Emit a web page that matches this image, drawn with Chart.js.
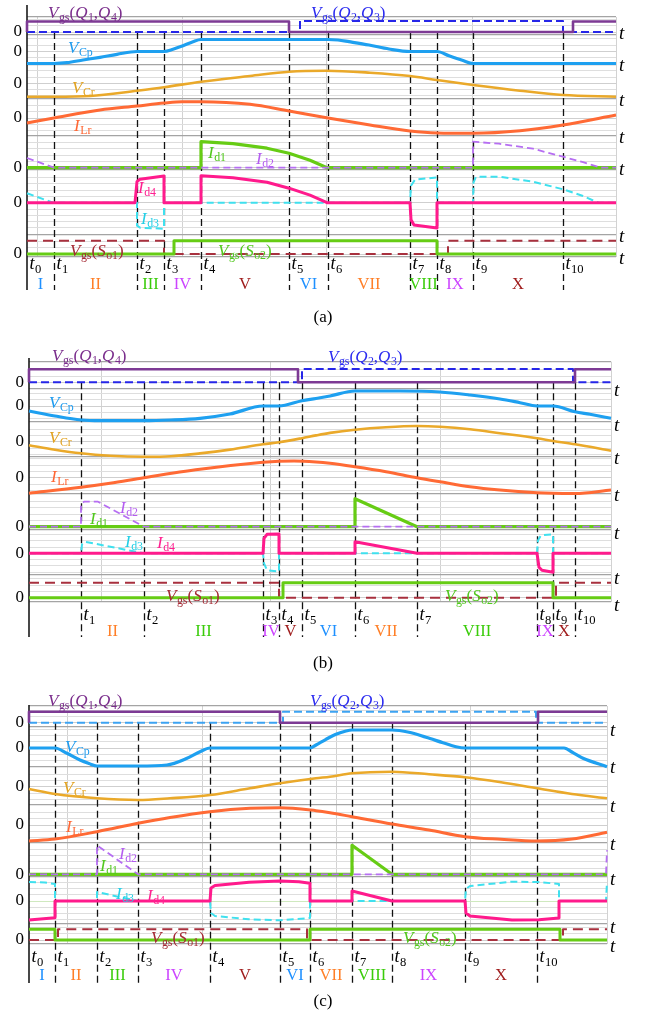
<!DOCTYPE html>
<html>
<head>
<meta charset="utf-8">
<title>Converter switching waveforms</title>
<script src="https://cdn.jsdelivr.net/npm/chart.js@4.4.1/dist/chart.umd.min.js"></script>
<style>
  html, body { margin: 0; padding: 0; background: #fff; }
  #sheet { position: relative; width: 646px; height: 1016px; overflow: hidden; background: #fff; }
  #sheet canvas { position: absolute; left: 0; }
</style>
</head>
<body>
<div id="sheet">
  <canvas id="panelA" width="646" height="332" style="top:0px"></canvas>
  <canvas id="panelB" width="646" height="340" style="top:332px"></canvas>
  <canvas id="panelC" width="646" height="344" style="top:672px"></canvas>
</div>
<script>
// ---------- common labels ----------
const romans = ['I', 'II', 'III', 'IV', 'V', 'VI', 'VII', 'VIII', 'IX', 'X'];

// ---------- panel (a): switching instants and waveforms [time, amplitude] ----------
const aTimes = [0, 27, 110, 137, 174, 262, 301, 383, 410, 446, 536];
const aEnd = 589;
const aVgsQ14 = [[0, 0], [0, 10.5], [262, 10.5], [262, 0], [546, 0], [546, 10.5], [589, 10.5]];
const aVgsQ23 = [[0, 0], [273, 0], [273, 11], [536, 11], [536, 0], [589, 0]];
const aVCp = [[0, -12], [27, -12], [40, -11.2], [56, -8.5], [73, -5.8], [90, -2.8], [110, 0], [137, 0], [146, 2.2], [156, 5.8], [166, 9.8], [174, 12], [301, 12], [311, 11.5], [322, 9.8], [342, 6.5], [362, 2.5], [383, 0], [410, 0], [422, -4.3], [436, -9], [446, -12], [589, -12]];
const aVCr = [[0, -13.4], [27, -13.4], [63, -12.7], [110, -7.4], [137, -4], [174, 1.6], [223, 7.3], [262, 11.6], [299, 12.6], [343, 10.6], [383, 7.3], [410, 3.3], [446, -1.7], [493, -7.4], [536, -11.7], [589, -13.4]];
const aILr = [[0, -5], [27, 0], [73, 8], [110, 12], [137, 15], [155, 16.3], [174, 16.3], [223, 13.7], [262, 7], [301, 0], [343, -7], [383, -13], [410, -15], [446, -15.3], [493, -12.8], [536, -7], [589, 3]];
const aId1 = [[0, 0], [174, 0], [174, 26], [206, 24], [240, 19.5], [262, 14.5], [283, 7.5], [300, 0], [589, 0]];
const aId2 = [[0, 9.7], [27, 0], [446, 0], [446, 26], [472, 24], [506, 19], [536, 11], [556, 5.5], [574, 0], [589, 0]];
const aId4 = [[0, 0], [108, 0], [110, 21], [113, 23.5], [137, 26.7], [137, 0], [174, 0], [174, 27], [206, 25], [240, 20.5], [262, 14.5], [283, 7.5], [300, 0], [383, 0], [384, -17], [387, -22.3], [410, -25.3], [410, 0], [589, 0]];
const aId3 = [[0, 9.5], [26, 0], [110, 0], [110, -23], [113, -25], [137, -26], [137, 0], [383, 0], [384, 17], [388, 23], [410, 25.3], [410, 0], [446, 0], [446.5, 20], [449, 26], [472, 26], [506, 21], [536, 13.4], [556, 6.7], [569, 1], [572, 0], [589, 0]];
const aSo1 = [[0, 13.3], [137, 13.3], [137, 0], [421, 0], [421, 13.3], [589, 13.3]];
const aSo2 = [[0, 0], [147, 0], [147, 13.3], [410, 13.3], [410, 0], [589, 0]];

// ---------- panel (b) ----------
const bTimes = [52, 115, 234, 250, 273, 326, 388, 508, 524, 546];
const bEnd = 582;
const bVgsQ14 = [[0, 0], [0, 13], [269, 13], [269, 0], [546, 0], [546, 13], [582, 13]];
const bVgsQ23 = [[0, 0], [273, 0], [273, 13.3], [544, 13.3], [544, 0], [582, 0]];
const bVCp = [[0, -5], [26, -10], [52, -14], [71, -14.7], [115, -14.7], [142, -14], [171, -12.3], [201, -8], [234, 0], [250, 0], [273, 5.3], [287, 7.5], [301, 10], [326, 15], [371, 15], [411, 14], [441, 11], [471, 7], [491, 3.3], [508, 0], [524, 0], [546, -5.7], [561, -8.3], [582, -12.3]];
const bVCr = [[0, -3.5], [26, -8], [52, -11.6], [81, -14], [115, -15], [142, -14.5], [171, -11.7], [201, -7.9], [234, -2.6], [250, -0.6], [273, 3.5], [287, 6.3], [301, 8.8], [326, 12], [357, 14.5], [388, 15.7], [411, 15], [441, 12.5], [471, 8.5], [508, 3.4], [524, 0.7], [546, -2.6], [582, -9]];
const bILr = [[0, -15.6], [52, -9.6], [81, -5.6], [115, 0], [171, 8.4], [234, 15.4], [250, 16.5], [265, 16.8], [287, 15.8], [301, 14.5], [326, 11], [357, 6], [388, 0], [411, -4], [441, -9], [471, -12.3], [508, -15], [524, -15.6], [546, -15.8], [582, -12.3]];
const bId1 = [[0, 0], [326, 0], [326, 28], [388, 0], [582, 0]];
const bId2 = [[0, 0], [52, 0], [52, 22], [55, 25], [69, 25], [115, 0], [582, 0]];
const bId4 = [[0, 0], [234, 0], [235, 15], [238, 19], [250, 19.3], [250, 0], [326, 0], [326, 11.6], [388, 0], [508, 0], [510, -14], [513, -17], [524, -19], [524, 0], [582, 0]];
const bId3 = [[0, 0], [52, 0], [53, 9], [56, 11.5], [115, 0], [234, 0], [235, -10], [238, -17], [250, -18.3], [250, 0], [508, 0], [509, 13], [512, 18], [524, 19], [524, 0], [582, 0]];
const bSo1 = [[0, 15], [250, 15], [250, 0], [527, 0], [527, 15], [582, 15]];
const bSo2 = [[0, 0], [254, 0], [254, 15], [524, 15], [524, 0], [582, 0]];

// ---------- panel (c) ----------
const cTimes = [0, 26, 68, 109, 181, 251, 281, 323, 363, 436, 508];
const cEnd = 578;
const cVgsQ14 = [[0, 0], [0, 11], [251, 11], [251, 0], [509, 0], [509, 11], [578, 11]];
const cVgsQ23 = [[0, 0], [254, 0], [254, 11], [507, 11], [507, 0], [578, 0]];
const cVCp = [[0, 0], [26, 0], [38, -5.3], [51, -12], [60, -15.5], [68, -18], [109, -18], [138, -17], [158, -10.3], [171, -3.7], [181, 0], [281, 0], [287, 3], [297, 8.7], [307, 13.7], [317, 17], [323, 18], [363, 18], [380, 15.7], [397, 10.7], [414, 5.3], [427, 1.3], [436, 0], [535, 0], [544, -4.7], [554, -10.3], [578, -18.7]];
const cVCr = [[0, -2.3], [26, -7.3], [68, -11.6], [109, -13.3], [141, -11.6], [181, -8.3], [221, -1.6], [251, 3.4], [287, 8.4], [301, 10], [323, 13.4], [363, 15], [400, 12.4], [436, 9.4], [472, 4.4], [508, -1.6], [543, -7.3], [578, -11.6]];
const cILr = [[0, -16], [26, -14], [68, -6.7], [109, 1.7], [141, 7.5], [181, 13.3], [221, 16.7], [251, 17.3], [287, 14.3], [301, 12.3], [323, 8.3], [363, 1], [400, -5], [436, -11.7], [472, -14.3], [508, -16], [543, -14], [578, -7.3]];
const cId1 = [[0, 0], [323, 0], [323, 29], [363, 0], [578, 0]];
const cId2 = [[0, 0], [68, 0], [68, 29], [109, 0], [577, 0], [578, 24]];
const cId4 = [[0, -19], [26, -16.7], [26, 0], [181, 0], [182, 13], [186, 15.5], [220, 18.7], [251, 20], [270, 19.3], [281, 17.7], [281, 0], [323, 0], [323, 10], [363, 0], [436, 0], [437, -12], [441, -15], [483, -19], [510, -18.7], [530, -17], [530, 0], [578, 0]];
const cId3 = [[0, 19], [16, 18.5], [26, 17], [26, 0], [68, 0], [68, 9], [109, 0], [181, 0], [182, -12], [186, -15], [220, -18.3], [251, -19.3], [281, -17], [281, 0], [436, 0], [437, 12], [441, 15], [483, 19.3], [510, 19], [530, 17], [530, 0], [577, 0], [578, 19]];
const cSo1 = [[0, 0], [29, 0], [29, 10.7], [278, 10.7], [278, 0], [534, 0], [534, 10.7], [578, 10.7]];
const cSo2 = [[0, 10.7], [26, 10.7], [26, 0], [281, 0], [281, 10.7], [531, 10.7], [531, 0], [578, 0]];

// ---------- styling ----------
const SERIF = '"Liberation Serif", "Times New Roman", serif';
Chart.defaults.font.family = SERIF;

const LINE = {
  q14: '#7D3A94', q23: '#2626E8', q23light: '#3CA3F2', cp: '#1EA0F0', cr: '#EAA92A',
  lr: '#FF6A35', d1: '#66CC14', d2: '#B66EF2', d3: '#3FE0EE', d4: '#FF1A8C',
  so1: '#A8303E', so2: '#66CC14'
};
const TEXT = {
  q14: '#7A2D8C', q23: '#2B2BF0', cp: '#1E9BEF', cr: '#E2A21F', lr: '#FF6633',
  d1: '#52C81E', d2: '#B45CF0', d3: '#22CFE6', d4: '#FF2090', so1: '#A52A35', so2: '#52C81E'
};
const romanColors = ['#1E90FF', '#FF7F27', '#3ACC0A', '#CC44FF', '#A01E1E'];

// band order: 0 Vgs(Q), 1 VCp, 2 VCr, 3 ILr, 4 Id1/Id2, 5 Id3/Id4, 6 Vgs(So)
function waveSet(q14, q23, cp, cr, lr, d1, d2, d3, d4, so1, so2, q23Color) {
  // first entries are drawn on top
  return [
    { band: 0, pts: q14, color: LINE.q14, w: 2.6 },
    { band: 0, pts: q23, color: q23Color, w: 2, dash: [8, 4] },
    { band: 1, pts: cp, color: LINE.cp, w: 3.2, smooth: true },
    { band: 2, pts: cr, color: LINE.cr, w: 2.6, smooth: true },
    { band: 3, pts: lr, color: LINE.lr, w: 3, smooth: true },
    { band: 4, pts: d2, color: LINE.d2, w: 1.8, dash: [7, 4] },
    { band: 4, pts: d1, color: LINE.d1, w: 3.2 },
    { band: 5, pts: d4, color: LINE.d4, w: 3 },
    { band: 5, pts: d3, color: LINE.d3, w: 2, dash: [7, 4] },
    { band: 6, pts: so2, color: LINE.so2, w: 3 },
    { band: 6, pts: so1, color: LINE.so1, w: 2, dash: [10, 6] }
  ];
}

const panels = [
  {
    canvas: 'panelA', top: 0, height: 332, axisX: 27, right: 616, end: aEnd,
    gridTop: 17, gridBottom: 257, axisTop: 5, axisBottom: 290, dashTop: 32,
    tLabelY: 263, romanY: 285, caption: '(a)', captionY: 318, first: 0, times: aTimes,
    xGrid: [10, 155, 299, 445, 589],
    bands: [
      { top: 17, zero: 32, bot: 35, tY: 33 },
      { top: 35, zero: 51.5, bot: 64.5, tY: 65 },
      { top: 64.5, zero: 83.3, bot: 99, tY: 100 },
      { top: 99, zero: 118, bot: 136, tY: 137 },
      { top: 136, zero: 167.7, bot: 169.5, tY: 169 },
      { top: 169.5, zero: 202.7, bot: 234.5, tY: 236 },
      { top: 234.5, zero: 254, bot: 257, tY: 258 }
    ],
    series: waveSet(aVgsQ14, aVgsQ23, aVCp, aVCr, aILr, aId1, aId2, aId3, aId4, aSo1, aSo2, LINE.q23),
    notes: [
      ['V_{gs}(Q_{1},Q_{4})', 48, 12, TEXT.q14],
      ['V_{gs}(Q_{2},Q_{3})', 311, 12, TEXT.q23],
      ['V_{Cp}', 68, 47, TEXT.cp],
      ['V_{Cr}', 72, 87, TEXT.cr],
      ['I_{Lr}', 74, 125, TEXT.lr],
      ['I_{d1}', 208, 152, TEXT.d1],
      ['I_{d2}', 256, 158, TEXT.d2],
      ['I_{d4}', 138, 187, TEXT.d4],
      ['I_{d3}', 141, 218, TEXT.d3],
      ['V_{gs}(S_{o1})', 70, 250, TEXT.so1],
      ['V_{gs}(S_{o2})', 218, 250, TEXT.so2]
    ]
  },
  {
    canvas: 'panelB', top: 332, height: 340, axisX: 29, right: 611, end: bEnd,
    gridTop: 361.7, gridBottom: 602, axisTop: 358, axisBottom: 637, dashTop: 382.3,
    tLabelY: 614, romanY: 632, caption: '(b)', captionY: 664, first: 1, times: bTimes,
    xGrid: [72, 241, 411, 582],
    bands: [
      { top: 361.7, zero: 382.3, bot: 388.3, tY: 390 },
      { top: 388.3, zero: 406, bot: 422, tY: 425 },
      { top: 422, zero: 441.7, bot: 456.5, tY: 458 },
      { top: 456.5, zero: 477.7, bot: 494, tY: 495 },
      { top: 494, zero: 526.7, bot: 530, tY: 533 },
      { top: 530, zero: 553.3, bot: 575, tY: 578 },
      { top: 575, zero: 597.7, bot: 602, tY: 605 }
    ],
    series: waveSet(bVgsQ14, bVgsQ23, bVCp, bVCr, bILr, bId1, bId2, bId3, bId4, bSo1, bSo2, LINE.q23),
    notes: [
      ['V_{gs}(Q_{1},Q_{4})', 52, 355, TEXT.q14],
      ['V_{gs}(Q_{2},Q_{3})', 328, 356, TEXT.q23],
      ['V_{Cp}', 49, 402, TEXT.cp],
      ['V_{Cr}', 49, 437, TEXT.cr],
      ['I_{Lr}', 51, 476, TEXT.lr],
      ['I_{d2}', 120, 507, TEXT.d2],
      ['I_{d1}', 90, 518, TEXT.d1],
      ['I_{d3}', 125, 541, TEXT.d3],
      ['I_{d4}', 157, 542, TEXT.d4],
      ['V_{gs}(S_{o1})', 166, 595, TEXT.so1],
      ['V_{gs}(S_{o2})', 445, 595, TEXT.so2]
    ]
  },
  {
    canvas: 'panelC', top: 672, height: 344, axisX: 29, right: 607, end: cEnd,
    gridTop: 706, gridBottom: 944, axisTop: 705, axisBottom: 983, dashTop: 722.7,
    tLabelY: 956, romanY: 976, caption: '(c)', captionY: 1002, first: 0, times: cTimes,
    xGrid: [38, 173, 308, 442, 578],
    zeroTint: { band: 5, color: '#cfe9bf' },
    bands: [
      { top: 706, zero: 722.7, bot: 727, tY: 730 },
      { top: 727, zero: 748, bot: 767, tY: 767 },
      { top: 767, zero: 786.7, bot: 805, tY: 806 },
      { top: 805, zero: 825, bot: 843, tY: 844 },
      { top: 843, zero: 874.3, bot: 877, tY: 879 },
      { top: 877, zero: 901, bot: 924, tY: 927 },
      { top: 924, zero: 940, bot: 944, tY: 946 }
    ],
    series: waveSet(cVgsQ14, cVgsQ23, cVCp, cVCr, cILr, cId1, cId2, cId3, cId4, cSo1, cSo2, LINE.q23light),
    notes: [
      ['V_{gs}(Q_{1},Q_{4})', 48, 700, TEXT.q14],
      ['V_{gs}(Q_{2},Q_{3})', 310, 700, TEXT.q23],
      ['V_{Cp}', 65, 746, TEXT.cp],
      ['V_{Cr}', 63, 787, TEXT.cr],
      ['I_{Lr}', 66, 826, TEXT.lr],
      ['I_{d2}', 119, 853, TEXT.d2],
      ['I_{d1}', 100, 865, TEXT.d1],
      ['I_{d3}', 116, 893, TEXT.d3],
      ['I_{d4}', 147, 895, TEXT.d4],
      ['V_{gs}(S_{o1})', 151, 937, TEXT.so1],
      ['V_{gs}(S_{o2})', 403, 937, TEXT.so2]
    ]
  }
];

// ---------- text helpers ----------
function parseRich(s) {
  const parts = [];
  let i = 0;
  while (i < s.length) {
    if (s[i] === '_' && s[i + 1] === '{') {
      const j = s.indexOf('}', i);
      parts.push({ t: s.slice(i + 2, j), sub: true, it: false });
      i = j + 1;
    } else {
      parts.push({ t: s[i], sub: false, it: /[A-Za-z]/.test(s[i]) });
      i++;
    }
  }
  return parts;
}
function drawRich(ctx, s, x, y, size, color) {
  const parts = parseRich(s);
  const subSize = size * 0.7;
  const base = y + size * 0.33;
  ctx.save();
  ctx.fillStyle = color;
  ctx.textAlign = 'left';
  ctx.textBaseline = 'alphabetic';
  let cx = x;
  for (const p of parts) {
    ctx.font = (p.it ? 'italic ' : '') + (p.sub ? subSize : size) + 'px ' + SERIF;
    ctx.fillText(p.t, cx, p.sub ? base + size * 0.22 : base);
    cx += ctx.measureText(p.t).width + (p.it ? size * 0.03 : 0);
  }
  ctx.restore();
}
function drawPlain(ctx, s, x, y, size, color) {
  ctx.save();
  ctx.fillStyle = color;
  ctx.font = size + 'px ' + SERIF;
  ctx.textAlign = 'center';
  ctx.textBaseline = 'middle';
  ctx.fillText(s, x, y);
  ctx.restore();
}

// horizontal grid: band edges, zero lines and fine rulings
function buildGrid(bands, step) {
  const major = [];
  const minor = [];
  bands.forEach((b, k) => {
    major.push({ v: b.top, kind: 'edge' }, { v: b.bot, kind: 'edge' }, { v: b.zero, kind: 'zero', band: k });
    for (let v = b.zero - step; v > b.top + 2; v -= step) minor.push({ v: v, kind: 'minor' });
    for (let v = b.zero + step; v < b.bot - 2; v += step) minor.push({ v: v, kind: 'minor' });
  });
  const kept = minor.filter(m => major.every(M => Math.abs(M.v - m.v) >= 2));
  const all = major.concat(kept).sort((p, q) => p.v - q.v);
  const out = [];
  for (const l of all) {
    const last = out[out.length - 1];
    if (last && Math.abs(last.v - l.v) < 0.05 && last.kind === l.kind) continue;
    out.push(l);
  }
  return out;
}

function overlayPlugin(P) {
  return {
    id: 'overlay_' + P.canvas,
    beforeDatasetsDraw(chart) {
      const { ctx, scales, chartArea } = chart;
      const X = t => scales.x.getPixelForValue(t);
      const Y = v => scales.y.getPixelForValue(v);
      ctx.save();
      ctx.strokeStyle = '#1a1a1a';
      ctx.lineWidth = 1.6;
      ctx.beginPath();
      ctx.moveTo(chartArea.left, Y(P.axisTop));
      ctx.lineTo(chartArea.left, Y(P.axisBottom));
      ctx.stroke();
      ctx.setLineDash([7, 4]);
      ctx.lineWidth = 1.3;
      ctx.strokeStyle = '#111';
      P.times.forEach(t => {
        if (t <= 0) return;
        const px = Math.round(X(t)) + 0.5;
        ctx.beginPath();
        ctx.moveTo(px, Y(P.dashTop));
        ctx.lineTo(px, Y(P.axisBottom));
        ctx.stroke();
      });
      ctx.restore();
    },
    afterDatasetsDraw(chart) {
      const { ctx, scales, chartArea } = chart;
      const X = t => scales.x.getPixelForValue(t);
      const Y = v => scales.y.getPixelForValue(v);
      P.notes.forEach(([s, x, y, c]) => drawRich(ctx, s, x, Y(y), 17, c));
      P.times.forEach((t, k) => drawRich(ctx, 't_{' + (P.first + k) + '}', X(t) + 2.5, Y(P.tLabelY), 18, '#000'));
      for (let k = 0; k < P.times.length - 1; k++) {
        const mid = (X(P.times[k]) + X(P.times[k + 1])) / 2;
        const idx = P.first + k;
        drawPlain(ctx, romans[idx], mid, Y(P.romanY), 16.5, romanColors[idx % 5]);
      }
      P.bands.forEach(b => drawRich(ctx, 't', chartArea.right + 3, Y(b.tY), 19, '#000'));
      drawPlain(ctx, P.caption, 323, Y(P.captionY), 17, '#000');
    }
  };
}

function buildChart(P) {
  const grid = buildGrid(P.bands, 6.3);
  const kindOf = v => {
    const g = grid.find(l => Math.abs(l.v - v) < 0.01);
    return g || { kind: 'minor' };
  };
  const datasets = P.series.map(s => ({
    data: s.pts.map(([t, v]) => ({ x: t, y: P.bands[s.band].zero - v })),
    borderColor: s.color,
    borderWidth: s.w,
    borderDash: s.dash || [],
    borderJoinStyle: 'round',
    pointRadius: 0,
    fill: false,
    tension: 0,
    cubicInterpolationMode: s.smooth ? 'monotone' : 'default',
    clip: 6
  }));
  return new Chart(document.getElementById(P.canvas), {
    type: 'line',
    data: { datasets },
    options: {
      responsive: false,
      animation: false,
      devicePixelRatio: 1,
      events: [],
      layout: {
        padding: {
          left: 0,
          right: 646 - P.right,
          top: P.gridTop - P.top,
          bottom: P.top + P.height - P.gridBottom
        }
      },
      plugins: { legend: { display: false }, tooltip: { enabled: false } },
      scales: {
        x: {
          type: 'linear', min: 0, max: P.end,
          afterFit: s => { s.height = 0; },
          afterBuildTicks: s => { s.ticks = P.xGrid.map(v => ({ value: v })); },
          ticks: { display: false },
          grid: { color: '#d2d2d2', lineWidth: 1, drawTicks: false },
          border: { display: false }
        },
        y: {
          type: 'linear', reverse: true, min: P.gridTop, max: P.gridBottom,
          afterFit: s => { s.width = P.axisX; },
          afterBuildTicks: s => { s.ticks = grid.map(l => ({ value: l.v })); },
          ticks: {
            autoSkip: false,
            padding: 5,
            color: '#000',
            font: { size: 17, family: SERIF },
            callback: v => (P.bands.some(b => Math.abs(b.zero - v) < 0.01) ? '0' : '')
          },
          grid: {
            drawTicks: false,
            color: ctx => {
              const g = kindOf(ctx.tick ? ctx.tick.value : NaN);
              if (g.kind === 'edge') return '#a4a4a4';
              if (g.kind === 'zero' && P.zeroTint && g.band === P.zeroTint.band) return P.zeroTint.color;
              if (g.kind === 'zero') return '#cfcfcf';
              return '#dedede';
            },
            lineWidth: ctx => (kindOf(ctx.tick ? ctx.tick.value : NaN).kind === 'edge' ? 1.3 : 1)
          },
          border: { display: false }
        }
      }
    },
    plugins: [overlayPlugin(P)]
  });
}

panels.forEach(buildChart);
</script>
</body>
</html>
